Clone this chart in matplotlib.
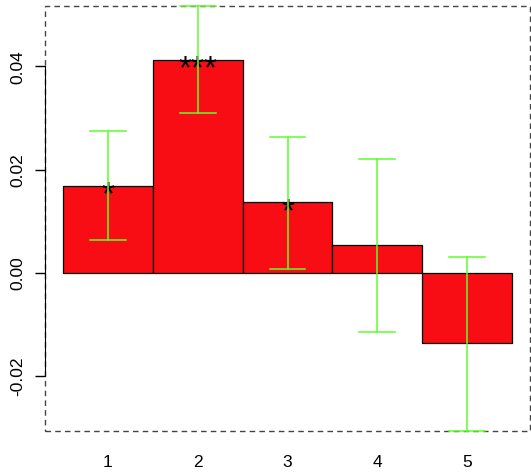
import matplotlib
matplotlib.use("Agg")
import matplotlib.pyplot as plt
from matplotlib.patches import Rectangle

groups = ["1", "2", "3", "4", "5"]
means = [0.0168, 0.0412, 0.0136, 0.0054, -0.0137]
upper = [0.0275, 0.0518, 0.0264, 0.0221, 0.0030]
lower = [0.0063, 0.0310, 0.0007, -0.0116, -0.0307]
stars = ["*", "***", "*", "", ""]

plt.rcParams['font.family'] = ['Liberation Sans', 'DejaVu Sans']

fig = plt.figure(figsize=(5.31, 4.77), dpi=100)
ax = fig.add_axes([45 / 531, 45.3 / 477, 485 / 531, 425 / 477])

x = list(range(len(groups)))
ax.bar(x, means, width=1.0, color="#f80d14", edgecolor="black", linewidth=0.9, zorder=2)

# significance stars, glyph centre sitting on the bar top
for xi, s, m in zip(x, stars, means):
    if s:
        ax.annotate(s, (xi, m), xytext=(0, -12.5), textcoords="offset points",
                    ha="center", va="baseline", fontsize=24, color="black",
                    zorder=3)

for xi, lo, hi in zip(x, lower, upper):
    ax.plot([xi, xi], [lo, hi], color="#5cff2a", lw=1.1, zorder=4, clip_on=False)
    for yy in (lo, hi):
        ax.plot([xi - 0.2, xi + 0.2], [yy, yy], color="#5cff2a", lw=1.1,
                zorder=4, clip_on=False)

ax.set_xlim(-0.7, 4.7)
ax.set_ylim(min(lower), max(upper))

# dashed frame round the plot region
ax.add_patch(Rectangle((0, 0), 1, 1, transform=ax.transAxes, fill=False,
                       edgecolor="#444444", linestyle=(0, (4, 3)), lw=1.0,
                       zorder=1, clip_on=False))

for side in ["top", "right", "bottom"]:
    ax.spines[side].set_visible(False)
ax.spines["left"].set_bounds(-0.02, 0.04)
ax.spines["left"].set_zorder(5)

ax.set_yticks([-0.02, 0.0, 0.02, 0.04])
ax.set_yticklabels(["-0.02", "0.00", "0.02", "0.04"], rotation=90, va="center")
ax.set_xticks(x)
ax.set_xticklabels(groups)
ax.tick_params(axis="y", length=7, width=1, pad=7, labelsize=12.5)
ax.tick_params(axis="x", length=0, pad=17, labelsize=12.5)

fig.savefig("out.png", dpi=100)
